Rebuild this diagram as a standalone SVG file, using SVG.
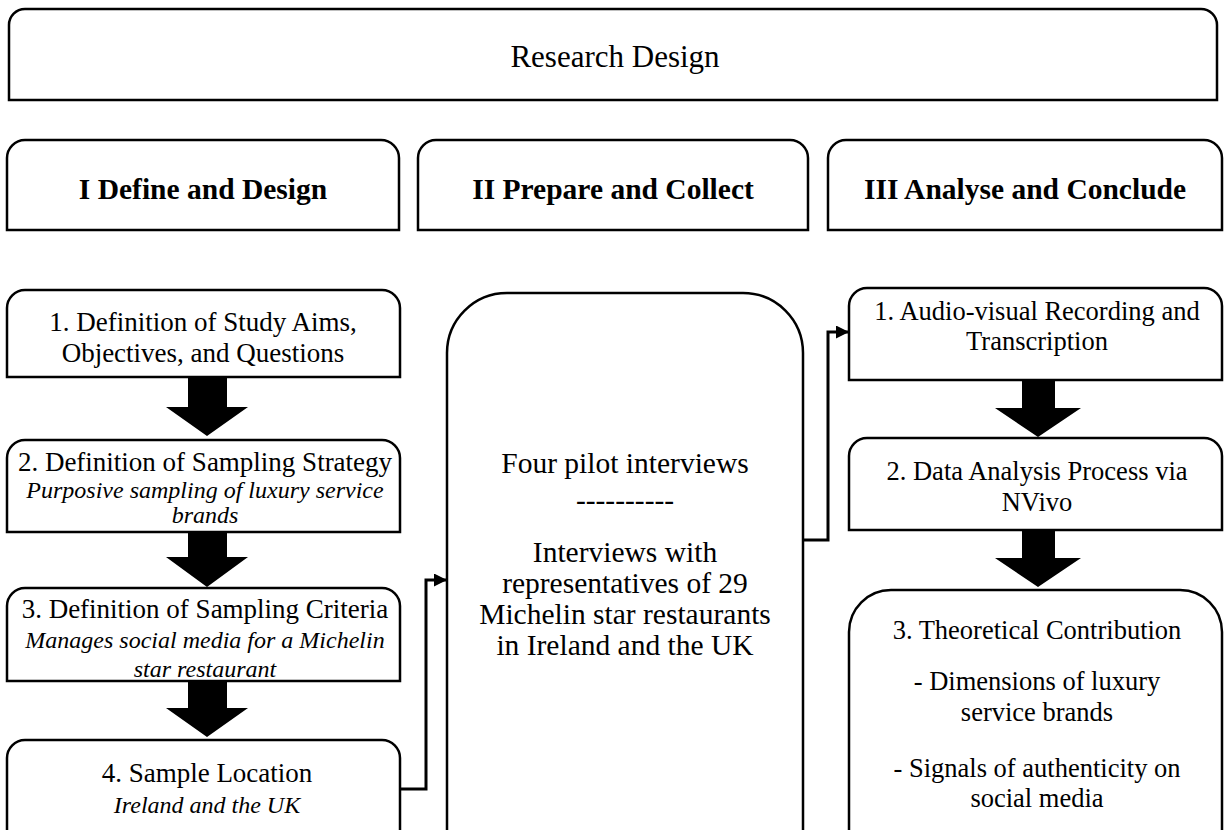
<svg xmlns="http://www.w3.org/2000/svg" width="1230" height="830" viewBox="0 0 1230 830">
  <style>
    .box { fill: #ffffff; stroke: #000000; stroke-width: 2.5; }
    .t { font-family: "Liberation Serif", "Times New Roman", serif; fill: #000000; text-anchor: middle; }
    .reg { font-size: 27px; }
    .mid { font-size: 29.5px; }
    .rgt { font-size: 26.5px; }
    .it { font-size: 24px; font-style: italic; }
    .hd { font-size: 29.5px; font-weight: bold; }
    .title { font-size: 31px; }
    .block { fill: #000000; }
    .link { fill: none; stroke: #000000; stroke-width: 3; }
  </style>
  <defs>
    <marker id="tip" viewBox="0 0 10 10" refX="10" refY="5" markerUnits="userSpaceOnUse" markerWidth="14" markerHeight="13" orient="auto">
      <path d="M0,0 L10,5 L0,10 Z" fill="#000000"/>
    </marker>
  </defs>

  <rect width="1230" height="830" fill="#ffffff"/>

  <!-- Title -->
  <g id="title">
    <path class="box" d="M9,100 V25 A16,16 0 0 1 25,9 H1201 A16,16 0 0 1 1217,25 V100 Z"/>
    <text class="t title" x="615" y="67">Research Design</text>
  </g>

  <!-- Phase headers -->
  <g id="phase-1">
    <path class="box" d="M7,230 V158 A18,18 0 0 1 25,140 H381 A18,18 0 0 1 399,158 V230 Z"/>
    <text class="t hd" x="203" y="199">I Define and Design</text>
  </g>
  <g id="phase-2">
    <path class="box" d="M418,230 V158 A18,18 0 0 1 436,140 H790 A18,18 0 0 1 808,158 V230 Z"/>
    <text class="t hd" x="613" y="199">II Prepare and Collect</text>
  </g>
  <g id="phase-3">
    <path class="box" d="M828,230 V158 A18,18 0 0 1 846,140 H1204 A18,18 0 0 1 1222,158 V230 Z"/>
    <text class="t hd" x="1025" y="199">III Analyse and Conclude</text>
  </g>

  <!-- Column I -->
  <g id="define-aims">
    <path class="box" d="M7,377 V308 A18,18 0 0 1 25,290 H382 A18,18 0 0 1 400,308 V377 Z"/>
    <text class="t reg" x="203" y="331">1. Definition of Study Aims,</text>
    <text class="t reg" x="203" y="362">Objectives, and Questions</text>
  </g>
  <g id="sampling-strategy">
    <path class="box" d="M7,532 V458 A18,18 0 0 1 25,440 H382 A18,18 0 0 1 400,458 V532 Z"/>
    <text class="t reg" x="205" y="471">2. Definition of Sampling Strategy</text>
    <text class="t it" x="205" y="498">Purposive sampling of luxury service</text>
    <text class="t it" x="205" y="523">brands</text>
  </g>
  <g id="sampling-criteria">
    <path class="box" d="M7,681 V606 A18,18 0 0 1 25,588 H382 A18,18 0 0 1 400,606 V681 Z"/>
    <text class="t reg" x="205" y="618">3. Definition of Sampling Criteria</text>
    <text class="t it" x="205" y="648">Manages social media for a Michelin</text>
    <text class="t it" x="205" y="677">star restaurant</text>
  </g>
  <g id="sample-location">
    <path class="box" d="M7,834 V758 A18,18 0 0 1 25,740 H382 A18,18 0 0 1 400,758 V834 Z"/>
    <text class="t reg" x="207" y="782">4. Sample Location</text>
    <text class="t it" x="207" y="813">Ireland and the UK</text>
  </g>

  <!-- Column II -->
  <g id="interviews">
    <path class="box" d="M447,834 V353 A60,60 0 0 1 507,293 H743 A60,60 0 0 1 803,353 V834 Z"/>
    <text class="t mid" x="625" y="473">Four pilot interviews</text>
    <text class="t mid" x="625" y="510">----------</text>
    <text class="t mid" x="625" y="562">Interviews with</text>
    <text class="t mid" x="625" y="593">representatives of 29</text>
    <text class="t mid" x="625" y="624">Michelin star restaurants</text>
    <text class="t mid" x="625" y="655">in Ireland and the UK</text>
  </g>

  <!-- Column III -->
  <g id="recording">
    <path class="box" d="M849,380 V306 A18,18 0 0 1 867,288 H1204 A18,18 0 0 1 1222,306 V380 Z"/>
    <text class="t rgt" x="1037" y="320">1. Audio-visual Recording and</text>
    <text class="t rgt" x="1037" y="350">Transcription</text>
  </g>
  <g id="analysis">
    <path class="box" d="M849,530 V456 A18,18 0 0 1 867,438 H1204 A18,18 0 0 1 1222,456 V530 Z"/>
    <text class="t rgt" x="1037" y="480">2. Data Analysis Process via</text>
    <text class="t rgt" x="1037" y="511">NVivo</text>
  </g>
  <g id="contribution">
    <path class="box" d="M849,834 V632 A42,42 0 0 1 891,590 H1180 A42,42 0 0 1 1222,632 V834 Z"/>
    <text class="t rgt" x="1037" y="639">3. Theoretical Contribution</text>
    <text class="t rgt" x="1037" y="690">- Dimensions of luxury</text>
    <text class="t rgt" x="1037" y="721">service brands</text>
    <text class="t rgt" x="1037" y="777">- Signals of authenticity on</text>
    <text class="t rgt" x="1037" y="807">social media</text>
  </g>

  <!-- Connectors -->
  <g id="connectors">
    <polygon class="block" points="188,377 227,377 227,407 248,407 207,436 166,407 188,407"/>
    <polygon class="block" points="188,532 227,532 227,557 248,557 207,587 166,557 188,557"/>
    <polygon class="block" points="188,681 227,681 227,708 248,708 207,737 166,708 188,708"/>
    <polygon class="block" points="1022,380 1055,380 1055,408 1081,408 1038,437 995,408 1022,408"/>
    <polygon class="block" points="1022,530 1055,530 1055,558 1081,558 1038,587 995,558 1022,558"/>
    <path class="link" d="M401,789 H426 V580 H447" marker-end="url(#tip)"/>
    <path class="link" d="M804,540 H828 V332 H849" marker-end="url(#tip)"/>
  </g>
</svg>
